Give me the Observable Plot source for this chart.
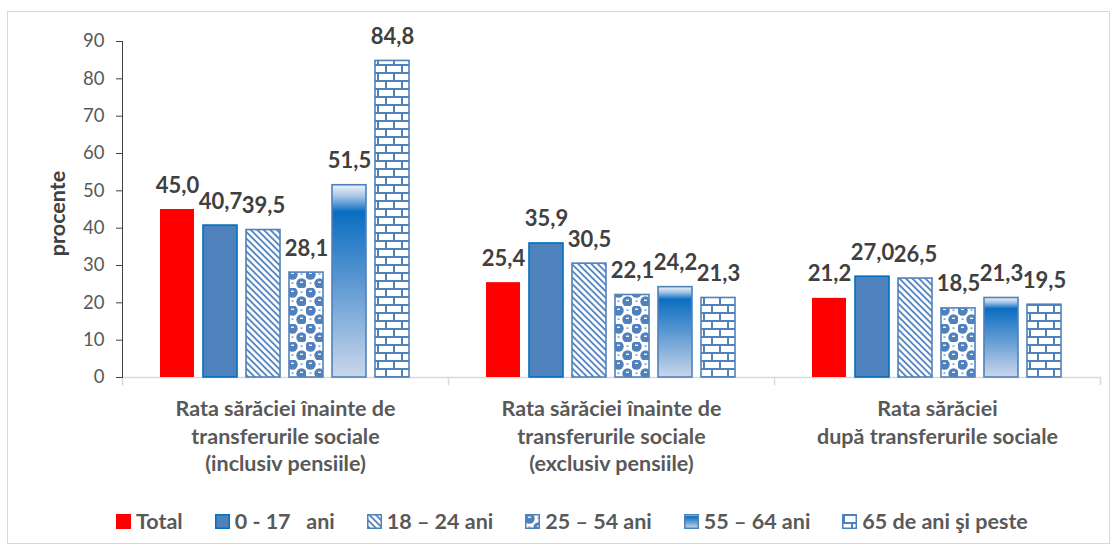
<!DOCTYPE html>
<html>
<head>
<meta charset="utf-8">
<script src="https://cdn.jsdelivr.net/npm/d3@7"></script>
<script src="https://cdn.jsdelivr.net/npm/@observablehq/plot@0.6"></script>
<style>
  html, body { margin: 0; padding: 0; background: #fff; width: 1117px; height: 549px; overflow: hidden; }
  body { position: relative; font-family: Lato, "Open Sans", sans-serif; }
  #border { position: absolute; left: 7px; top: 11px; width: 1103px; height: 533px; border: 1px solid #D9D9D9; box-sizing: border-box; }
  #chart { position: absolute; left: 0; top: 0; }
  #legend { position: absolute; left: 116px; top: 508px; display: flex; align-items: center; white-space: pre;
            font-family: Lato, sans-serif; font-weight: 700; font-size: 21.5px; color: #595959; }
  #legend .item { display: flex; align-items: center; margin-right: 32px; }
  #legend svg { margin-right: 5px; }
</style>
</head>
<body>
<svg width="0" height="0" style="position:absolute">
  <defs>
    <pattern id="p18" width="4.6" height="4.6" patternUnits="userSpaceOnUse" patternTransform="rotate(-45)">
      <rect width="4.6" height="4.6" fill="#fff"/>
      <line x1="1" y1="0" x2="1" y2="4.6" stroke="#4F81BD" stroke-width="1.8"/>
    </pattern>
    <pattern id="p25" width="18" height="18" patternUnits="userSpaceOnUse">
      <rect width="18" height="18" fill="#fff"/>
      <circle cx="4.5" cy="4.5" r="5.2" fill="#4F81BD"/>
      <circle cx="13.5" cy="13.5" r="5.2" fill="#4F81BD"/>
      <rect x="3" y="2.6" width="3" height="1.3" fill="#fff"/>
      <rect x="12" y="11.6" width="3" height="1.3" fill="#fff"/>
      <rect x="12.5" y="3.5" width="2" height="1.2" fill="#4F81BD"/>
      <rect x="3.5" y="12.5" width="2" height="1.2" fill="#4F81BD"/>
    </pattern>
    <pattern id="p65" width="16" height="16" patternUnits="userSpaceOnUse">
      <rect width="16" height="16" fill="#fff"/>
      <line x1="0" y1="1" x2="16" y2="1" stroke="#4F81BD" stroke-width="2"/>
      <line x1="0" y1="9" x2="16" y2="9" stroke="#4F81BD" stroke-width="2"/>
      <line x1="2" y1="1" x2="2" y2="9" stroke="#4F81BD" stroke-width="2"/>
      <line x1="10" y1="9" x2="10" y2="17" stroke="#4F81BD" stroke-width="2"/>
    </pattern>
    <linearGradient id="g55" x1="0" y1="0" x2="0" y2="1">
      <stop offset="0" stop-color="#EEF3FA"/>
      <stop offset="0.06" stop-color="#A9C6E6"/>
      <stop offset="0.14" stop-color="#0A6EC1"/>
      <stop offset="0.5" stop-color="#5B97D2"/>
      <stop offset="1" stop-color="#CAD7EA"/>
    </linearGradient>
  </defs>
</svg>
<div id="border"></div>
<div id="chart"></div>
<div id="legend"></div>
<script>
const groups = [
  "Rata sărăciei înainte de\ntransferurile sociale\n(inclusiv pensiile)",
  "Rata sărăciei înainte de\ntransferurile sociale\n(exclusiv pensiile)",
  "Rata sărăciei\ndupă transferurile sociale"
];
const series = ["Total", "0 - 17   ani", "18 – 24 ani", "25 – 54 ani", "55 – 64 ani", "65 de ani şi peste"];
const valuesInclusiv = [45.0, 40.7, 39.5, 28.1, 51.5, 84.8];
const valuesExclusiv = [25.4, 35.9, 30.5, 22.1, 24.2, 21.3];
const valuesDupa = [21.2, 27.0, 26.5, 18.5, 21.3, 19.5];
const yTicks = [0, 10, 20, 30, 40, 50, 60, 70, 80, 90];
const yLabel = "procente";

const fills = ["#FF0000", "#4F81BD", "url(#p18)", "url(#p25)", "url(#g55)", "url(#p65)"];
const strokes = ["none", "#0070C0", "#4F81BD", "#4F81BD", "#4F81BD", "#4F81BD"];

const groupValues = [valuesInclusiv, valuesExclusiv, valuesDupa];
const data = groups.flatMap((g, gi) => series.map((s, si) => ({group: g, series: s, value: groupValues[gi][si]})));
const fmt = v => v.toFixed(1).replace(".", ",");

const plot = Plot.plot({
  width: 1117,
  height: 500,
  marginLeft: 122,
  marginRight: 17,
  marginTop: 41,
  marginBottom: 123,
  style: {fontFamily: "Lato, sans-serif", fontSize: "19px", background: "transparent", overflow: "visible"},
  fx: {domain: groups, padding: 0, label: null},
  x: {domain: series, paddingInner: 0.2, paddingOuter: 0.86, axis: null},
  y: {domain: [0, 90]},
  marks: [
    Plot.ruleY([0], {stroke: "#D9D9D9", strokeWidth: 1.5}),
    Plot.frame({anchor: "left", stroke: "#D9D9D9", strokeWidth: 1.5, insetTop: 336, insetBottom: -7}),
    Plot.frame({anchor: "right", facetAnchor: "right", stroke: "#D9D9D9", strokeWidth: 1.5, insetTop: 336, insetBottom: -7}),
    ...series.map((s, i) => Plot.barY(data.filter(d => d.series === s), {
      fx: "group", x: "series", y: "value",
      fill: fills[i], stroke: strokes[i], strokeWidth: 1.6, insetLeft: 0, insetRight: 0
    })),
    Plot.text(data, {
      fx: "group", x: "series", y: "value", text: d => fmt(d.value),
      dy: -17, lineAnchor: "bottom", fontSize: 22, fontWeight: 700, fill: "#404040"
    }),
    Plot.frame({anchor: "left", facetAnchor: "left", stroke: "#404040", strokeWidth: 1}),
    Plot.axisY({ticks: yTicks, tickSize: 6, tickPadding: 12, label: null, fontSize: 18.5, stroke: "#404040", fill: "#595959"}),
    Plot.text([yLabel], {frameAnchor: "left", facetAnchor: "left", textAnchor: "middle", rotate: -90, dx: -64, dy: 4, text: d => d, fontSize: 21.5, fontWeight: 700, fill: "#404040"}),
    Plot.axisFx({anchor: "bottom", tickSize: 0, tickPadding: 19, label: null, fontSize: 21.5, fontWeight: 700, lineHeight: 1.28, fill: "#595959", tickFormat: d => d})
  ]
});
document.getElementById("chart").appendChild(plot);

const legend = document.getElementById("legend");
series.forEach((s, i) => {
  const item = document.createElement("div");
  item.className = "item";
  const sw = i === 0 ? `<rect x="0" y="0" width="15" height="15" fill="${fills[i]}"/>`
    : `<rect x="0.75" y="0.75" width="13.5" height="13.5" fill="${fills[i]}" stroke="${strokes[i]}" stroke-width="1.5"/>`;
  item.innerHTML = `<svg width="15" height="15">${sw}</svg><span>${s}</span>`;
  legend.appendChild(item);
});
</script>
</body>
</html>
